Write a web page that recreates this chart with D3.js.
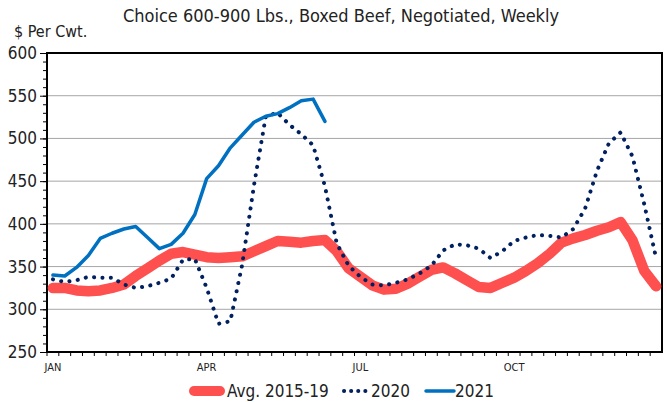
<!DOCTYPE html>
<meta charset="utf-8">
<style>
  body { margin: 0; background: #fff; }
  text { font-family: "Liberation Sans Narrow", "DejaVu Sans Condensed", sans-serif; fill: #222; }
</style>
<script src="https://d3js.org/d3.v7.min.js"></script>
<body>
<div id="chart"></div>
</body>
<script>
// weekly values, $ per cwt
var weeks = d3.range(1, 53);
var avg1519 = [325, 325, 322, 321, 322, 325, 329, 339, 348, 357, 365, 367, 364, 361, 360, 361, 362, 368, 374, 380,
  379, 378, 380, 381, 368, 348, 338, 328, 323, 324, 330, 338, 346, 349, 342, 334, 326, 325, 331, 337,
  345, 354, 365, 378, 383, 387, 392, 396, 402, 381, 345, 327];
var y2020 = [335, 332, 334, 338, 337, 337, 329, 325, 327, 331, 336, 358, 359, 325, 283, 286, 352, 445, 526, 530,
  516, 505, 492, 444, 377, 351, 338, 329, 328, 331, 335, 342, 351, 369, 376, 375, 371, 360, 368, 380,
  384, 387, 386, 384, 394, 418, 462, 494, 507, 479, 423, 360];
var y2021 = [340, 339, 349, 363, 383, 389, 394, 397, 384, 371, 376, 389, 411, 453, 468, 489, 504, 519, 526, 529,
  536, 544, 546, 520];
var yTicks = [250, 300, 350, 400, 450, 500, 550, 600];
var monthLabels = [{week: 1, label: "JAN"}, {week: 14, label: "APR"}, {week: 27, label: "JUL"}, {week: 40, label: "OCT"}];

var W = 667, H = 402;
var margin = {left: 47, right: 662, top: 53, bottom: 352};

var svg = d3.select("#chart").append("svg")
  .attr("width", W).attr("height", H);

var x = d3.scaleBand().domain(weeks).range([margin.left, margin.right]).padding(0);
var y = d3.scaleLinear().domain([250, 600]).range([margin.bottom, margin.top]);
var cx = function(i) { return x(weeks[i]) + x.bandwidth() / 2; };

// gridlines
svg.append("g").selectAll("line")
  .data(yTicks.filter(function(d) { return d > 250 && d < 600; }))
  .enter().append("line")
    .attr("x1", margin.left).attr("x2", margin.right)
    .attr("y1", function(d) { return y(d); }).attr("y2", function(d) { return y(d); })
    .attr("stroke", "#a6a6a6").attr("stroke-width", 1);

// y axis with minor ticks
var yAxis = svg.append("g").attr("transform", "translate(" + margin.left + ",0)");
yAxis.call(d3.axisLeft(y).tickValues(d3.range(250, 601, 10)).tickSize(4).tickFormat(""));
yAxis.selectAll(".tick line").attr("stroke", "#000");
yAxis.select(".domain").remove();
var yMajor = svg.append("g").attr("transform", "translate(" + margin.left + ",0)");
yMajor.call(d3.axisLeft(y).tickValues(yTicks).tickSize(7).tickPadding(3));
yMajor.select(".domain").remove();
yMajor.selectAll(".tick line").attr("stroke", "#000");
yMajor.selectAll(".tick text").style("font-size", "17px").attr("fill", "#222");

// x axis ticks at week boundaries
var xAxis = svg.append("g").attr("transform", "translate(0," + margin.bottom + ")");
xAxis.call(d3.axisBottom(x).tickValues(weeks).tickSize(4).tickFormat(""));
xAxis.select(".domain").remove();
xAxis.selectAll(".tick").attr("transform", function(d) { return "translate(" + x(d) + ",0)"; });
xAxis.selectAll(".tick line").attr("stroke", "#000");

svg.append("g").selectAll("text")
  .data(monthLabels).enter().append("text")
    .attr("x", function(d) { return x(d.week) + x.bandwidth() / 2; })
    .attr("y", 371)
    .attr("text-anchor", "middle")
    .style("font-size", "11px")
    .attr("fill", "#333")
    .text(function(d) { return d.label; });

// plot border
svg.append("rect")
  .attr("x", margin.left).attr("y", margin.top)
  .attr("width", margin.right - margin.left).attr("height", margin.bottom - margin.top)
  .attr("fill", "none").attr("stroke", "#000").attr("stroke-width", 2);

var line = d3.line()
  .x(function(d, i) { return cx(i); })
  .y(function(d) { return y(d); });

svg.append("path").datum(avg1519)
  .attr("d", line).attr("fill", "none")
  .attr("stroke", "#ff5050").attr("stroke-width", 10.5)
  .attr("stroke-linejoin", "round").attr("stroke-linecap", "round");

svg.append("path").datum(y2020)
  .attr("d", line).attr("fill", "none")
  .attr("stroke", "#002060").attr("stroke-width", 4)
  .attr("stroke-dasharray", "0.1 8.3")
  .attr("stroke-linecap", "round");

svg.append("path").datum(y2021)
  .attr("d", line).attr("fill", "none")
  .attr("stroke", "#0070c0").attr("stroke-width", 3.5)
  .attr("stroke-linejoin", "round").attr("stroke-linecap", "round");

// titles
svg.append("text").attr("x", 341).attr("y", 22).attr("text-anchor", "middle")
  .style("font-size", "18px").text("Choice 600-900 Lbs., Boxed Beef, Negotiated, Weekly");
svg.append("text").attr("x", 14).attr("y", 37)
  .style("font-size", "16px").text("$ Per Cwt.");

// legend
var legend = [
  {label: "Avg. 2015-19", x: 194, len: 26, tx: 227, color: "#ff5050", w: 10, dash: null},
  {label: "2020", x: 344, len: 24, tx: 371, color: "#002060", w: 4, dash: "0.1 7"},
  {label: "2021", x: 426, len: 28, tx: 455, color: "#0070c0", w: 3.5, dash: null}
];
var lg = svg.append("g").selectAll("g").data(legend).enter().append("g");
lg.append("line")
  .attr("x1", function(d) { return d.x; })
  .attr("x2", function(d) { return d.x + d.len; })
  .attr("y1", 391).attr("y2", 391)
  .attr("stroke", function(d) { return d.color; })
  .attr("stroke-width", function(d) { return d.w; })
  .attr("stroke-dasharray", function(d) { return d.dash; })
  .attr("stroke-linecap", "round");
lg.append("text").attr("x", function(d) { return d.tx; }).attr("y", 397)
  .style("font-size", "17px").text(function(d) { return d.label; });
</script>
</html>
